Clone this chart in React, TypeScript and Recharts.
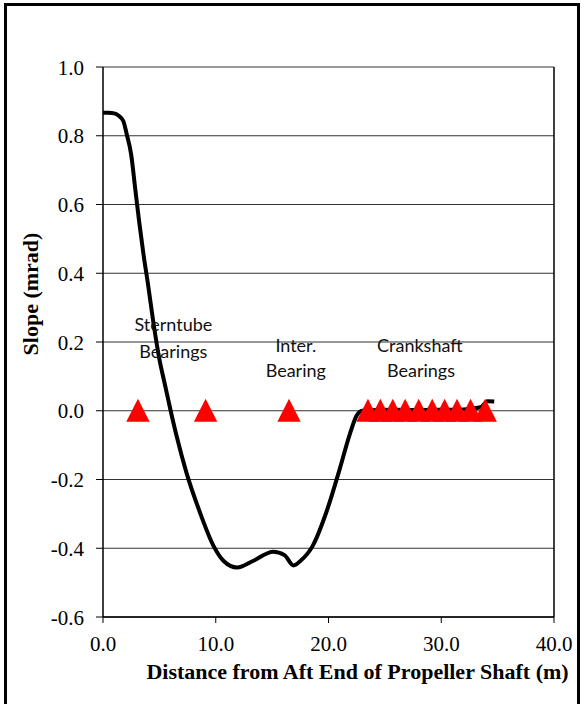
import {
  ComposedChart,
  Line,
  Scatter,
  XAxis,
  YAxis,
  CartesianGrid,
  ReferenceLine,
  ReferenceDot,
} from "recharts";

// slope curve (m, mrad)
const distance = [
  0, 0.5, 1.0, 1.4, 1.8, 2.1, 2.5, 2.85, 3.2, 3.6, 4.0, 4.5, 5.0, 5.5, 6.0,
  6.5, 7.4, 8.6, 9.8, 10.7, 11.9, 13.3, 15.1, 16.1, 16.9, 17.5, 18.6, 19.8,
  21.0, 21.9, 22.5, 23.0, 24.0, 26.0, 28.0, 30.0, 32.0, 33.5, 34.1, 34.7,
];
const slope = [
  0.867, 0.867, 0.865, 0.858, 0.843, 0.805, 0.745, 0.648, 0.552, 0.453, 0.366,
  0.25, 0.15, 0.075, 0.0, -0.07, -0.18, -0.296, -0.393, -0.437, -0.456,
  -0.437, -0.41, -0.42, -0.45, -0.437, -0.393, -0.296, -0.169, -0.067, -0.014,
  0.0, 0.002, 0.003, 0.002, 0.003, 0.004, 0.01, 0.028, 0.027,
];

// bearing positions along the shaft (m)
const bearingX = [
  3.1, 9.1, 16.5, 23.5, 24.6, 25.7, 26.8, 28.0, 29.2, 30.3, 31.4, 32.6, 33.9,
];

const xTicks = [0, 10, 20, 30, 40];
const yTicks = [-0.6, -0.4, -0.2, 0, 0.2, 0.4, 0.6, 0.8, 1.0];

const notes = [
  { x: 6.24, y: 0.251, text: "Sterntube" },
  { x: 6.24, y: 0.173, text: "Bearings" },
  { x: 17.1, y: 0.19, text: "Inter." },
  { x: 17.1, y: 0.117, text: "Bearing" },
  { x: 28.1, y: 0.19, text: "Crankshaft" },
  { x: 28.2, y: 0.117, text: "Bearings" },
];

const curve = distance.map((d, i) => ({ x: d, y: slope[i] }));
const bearings = bearingX.map((d) => ({ x: d, y: 0 }));

const serif = "Liberation Serif";

const Triangle = (props: any) => {
  const { cx, cy } = props;
  if (cx == null || cy == null) return null;
  return (
    <polygon
      points={`${cx},${cy - 12} ${cx + 11.7},${cy + 11} ${cx - 11.7},${cy + 11}`}
      fill="#FF0000"
    />
  );
};

const XTick = ({ x, y, payload }: any) => (
  <text x={x} y={y} dy="0.71em" textAnchor="middle" fill="#000" fontSize={21} fontFamily={serif}>
    {Number(payload.value).toFixed(1)}
  </text>
);

const YTick = ({ x, y, payload }: any) => (
  <text x={x} y={y} dy="0.36em" textAnchor="end" fill="#000" fontSize={21} fontFamily={serif}>
    {Number(payload.value).toFixed(1)}
  </text>
);

export default function App() {
  return (
    <div
      style={{
        position: "absolute",
        left: 0,
        top: 0,
        width: 582,
        height: 704,
        overflow: "hidden",
        background: "#fff",
      }}
    >
      <div
        style={{
          position: "absolute",
          left: 4,
          top: 3,
          width: 570,
          height: 720,
          border: "3px solid #000",
        }}
      />
      <div style={{ position: "absolute", left: 0, top: 0 }}>
        <ComposedChart
          width={582}
          height={704}
          margin={{ top: 67, right: 28, bottom: 47, left: 0 }}
        >
          <CartesianGrid vertical={false} stroke="#333" strokeWidth={1.2} />
          <XAxis
            type="number"
            dataKey="x"
            domain={[0, 40]}
            ticks={xTicks}
            height={40}
            tickSize={6}
            tickMargin={13}
            tick={<XTick />}
            axisLine={{ stroke: "#000", strokeWidth: 1.5 }}
            tickLine={{ stroke: "#000" }}
            label={{
              value: "Distance from Aft End of Propeller Shaft  (m)",
              position: "bottom",
              offset: 6,
              dx: 29,
              fill: "#000",
              fontSize: 22,
              fontWeight: "bold",
              fontFamily: serif,
            }}
          />
          <YAxis
            type="number"
            dataKey="y"
            domain={[-0.6, 1.0]}
            ticks={yTicks}
            width={103}
            tickSize={7}
            tickMargin={12}
            tick={<YTick />}
            axisLine={{ stroke: "#000", strokeWidth: 1.5 }}
            tickLine={{ stroke: "#000" }}
            label={{
              content: () => (
                <text
                  x={30}
                  y={294}
                  transform="rotate(-90, 30, 294)"
                  textAnchor="middle"
                  dominantBaseline="central"
                  fill="#000"
                  fontSize={22}
                  fontWeight="bold"
                  fontFamily={serif}
                >
                  Slope (mrad)
                </text>
              ),
            }}
          />
          <ReferenceLine x={40} stroke="#000" strokeWidth={1.5} />
          <Line
            data={curve}
            dataKey="y"
            type="monotone"
            stroke="#000"
            strokeWidth={4}
            dot={false}
            isAnimationActive={false}
          />
          <Scatter
            data={bearings}
            dataKey="y"
            shape={<Triangle />}
            isAnimationActive={false}
          />
          {notes.map((n, i) => (
            <ReferenceDot
              key={i}
              x={n.x}
              y={n.y}
              r={0}
              fill="none"
              stroke="none"
              label={{
                value: n.text,
                position: "center",
                fill: "#111",
                fontSize: 18,
                fontFamily: "Lato",
              }}
            />
          ))}
        </ComposedChart>
      </div>
    </div>
  );
}
